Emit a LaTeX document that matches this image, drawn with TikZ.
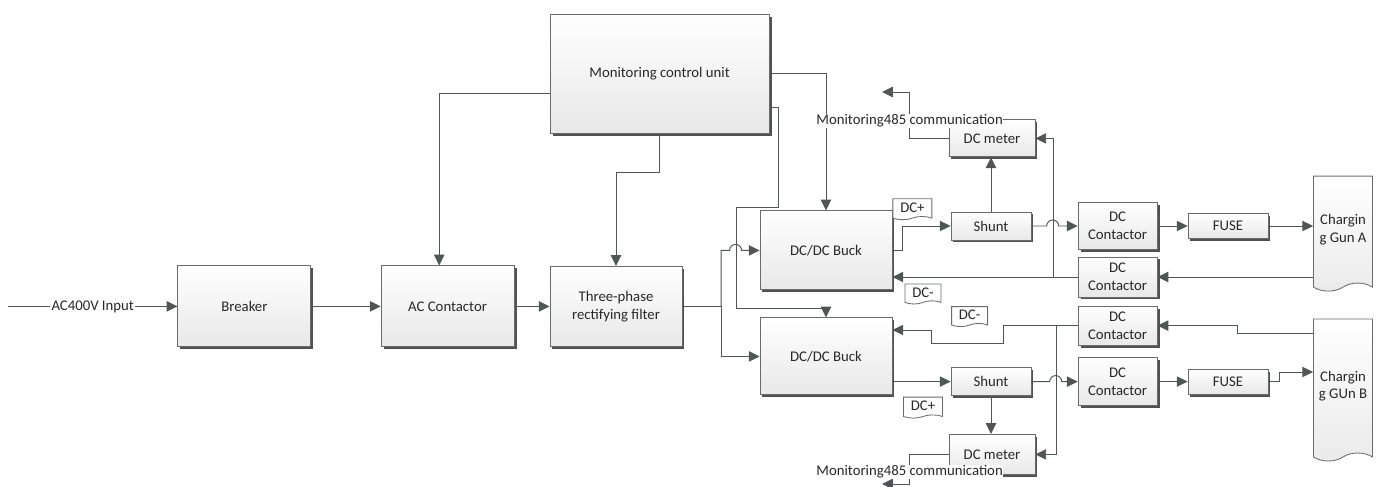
\documentclass[tikz,border=0pt]{standalone}
\usepackage{fontspec}
\setmainfont{Carlito}
\usepackage{tikz}
\usetikzlibrary{positioning,shapes.symbols,shadows,arrows.meta}
\definecolor{myline}{RGB}{78,86,86}
\definecolor{myborder}{RGB}{105,108,108}
\definecolor{mytext}{RGB}{40,40,40}
\tikzstyle{mynode}=[align=center, text=mytext, font=\fontsize{10.5}{12.5}\selectfont]
\tikzstyle{unit}=[mynode, rectangle, inner sep=2pt, draw=myborder, line width=0.6pt, top color=white, middle color=white, bottom color=black!9, drop shadow={shadow xshift=0.06cm,shadow yshift=-0.06cm,fill=black!80,opacity=0.85}]
\tikzstyle{doc}=[mynode, tape, tape bend top=none, draw=myborder, line width=0.6pt, fill=white, inner sep=1pt]
\tikzstyle{gun}=[doc, top color=white, middle color=white, bottom color=black!8, minimum width=1.475cm, tape bend height=0.2cm]
\tikzstyle{connect}=[myline, line width=0.7pt]
\tikzstyle{connect arrow}=[connect, -{Triangle[length=0.27cm,width=0.26cm]}]

\begin{document}
\begin{tikzpicture}
\useasboundingbox (0,0) rectangle (34.55,-12.15);

% AC side
\coordinate (acin) at (0.2,-7.66);
\node[unit, minimum width=3.325cm, minimum height=2.025cm] (brk) at (6.11,-7.66) {Breaker};
\node[unit, minimum width=3.325cm, minimum height=2.025cm] (acc) at (11.19,-7.66) {AC Contactor};
\node[unit, minimum width=3.3cm, minimum height=2.0cm] (rect) at (15.4,-7.66) {Three-phase\\rectifying filter};
\node[unit, minimum width=5.475cm, minimum height=2.975cm] (mcu) at (16.49,-1.84) {Monitoring control unit};

% DC side
\node[unit, minimum width=3.3cm, minimum height=1.975cm] (buckA) at (20.65,-6.26) {DC/DC Buck};
\node[unit, minimum width=3.3cm, minimum height=1.925cm] (buckB) at (20.65,-8.91) {DC/DC Buck};
\node[unit, minimum width=2cm, minimum height=0.7cm] (shuntA) at (24.775,-5.65) {Shunt};
\node[unit, minimum width=2cm, minimum height=0.7cm] (shuntB) at (24.775,-9.54) {Shunt};
\node[unit, minimum width=2.15cm, minimum height=0.925cm] (meterA) at (24.8,-3.46) {DC meter};
\node[unit, minimum width=2.15cm, minimum height=1.0cm] (meterB) at (24.8,-11.36) {DC meter};

\node[unit, minimum width=1.975cm, minimum height=1.175cm] (dccA1) at (27.94,-5.65) {DC\\Contactor};
\node[unit, minimum width=1.975cm, minimum height=1.0cm] (dccA2) at (27.94,-6.925) {DC\\Contactor};
\node[unit, minimum width=1.975cm, minimum height=0.975cm] (dccB2) at (27.94,-8.14) {DC\\Contactor};
\node[unit, minimum width=1.975cm, minimum height=1.2cm] (dccB1) at (27.94,-9.54) {DC\\Contactor};
\node[unit, minimum width=2cm, minimum height=0.625cm] (fuseA) at (30.7,-5.65) {FUSE};
\node[unit, minimum width=2cm, minimum height=0.625cm] (fuseB) at (30.7,-9.54) {FUSE};

\node[gun, minimum height=2.875cm] (gunA) at (33.575,-5.74) {Chargin\\g Gun A};
\node[gun, minimum height=3.55cm] (gunB) at (33.575,-9.65) {Chargin\\g GUn B};

% polarity tags
\node[doc, minimum width=0.975cm, minimum height=0.525cm, tape bend height=0.08cm] (dcpA) at (22.81,-5.19) {DC+};
\node[doc, minimum width=0.9cm, minimum height=0.5cm, tape bend height=0.08cm] (dcmA) at (23.075,-7.31) {DC-};
\node[doc, minimum width=0.9cm, minimum height=0.5cm, tape bend height=0.08cm] (dcmB) at (24.24,-7.875) {DC-};
\node[doc, minimum width=0.975cm, minimum height=0.525cm, tape bend height=0.08cm] (dcpB) at (23.075,-10.15) {DC+};

\coordinate (split) at (18.025,-7.66);
\coordinate (tapA) at (26.325,-6.925);
\coordinate (tapB) at (26.4,-8.14);
\coordinate (outA) at (22.05,-2.3);
\coordinate (outB) at (22.05,-12.1);

\begin{scope}[connect arrow]
    \draw (acin) -- node[mynode, fill=white, inner sep=1pt] (acinlbl) {AC400V Input} (brk);
    \draw (brk) -- (acc);
    \draw (acc) -- (rect);

    % control lines
    \draw ([yshift=-0.49cm]mcu.west) -| ([xshift=-0.21cm]acc.north);
    \draw (mcu.south) -- ++(0,-0.975) -| (rect.north);
    \draw (mcu.east) -| (buckA.north);
    \draw ([yshift=-0.84cm]mcu.east) -- (19.45,-2.68) -- (19.45,-5.175) -- (18.4,-5.175) -- (18.4,-7.7) -| (buckB.north);

    % power path
    \draw[-] (rect.east) -- (split);
    \draw (split) |- ([xshift=-0.75cm]buckA.west) arc[start angle=180,end angle=0,radius=0.15] -- (buckA.west);
    \draw (split) |- (buckB.west);

    \draw ([yshift=-0.01cm]buckA.east) -- ++(0.25,0) |- (shuntA.west);
    \draw (shuntB.west -| buckB.east) -- (shuntB.west);
    \draw (shuntA.north) -- (shuntA.north |- meterA.south);
    \draw (shuntB.south) -- (shuntB.south |- meterB.north);

    \draw (shuntA.east) -- ([xshift=-0.775cm]dccA1.west) arc[start angle=180,end angle=0,radius=0.15] -- (dccA1.west);
    \draw (shuntB.east) -- ([xshift=-0.7cm]dccB1.west) arc[start angle=180,end angle=0,radius=0.15] -- (dccB1.west);
    \draw (dccA1) -- (fuseA);
    \draw (dccB1) -- (fuseB);
    \draw (fuseA.east) -- (fuseA.east -| gunA.west);
    \draw (fuseB.east) -- ++(0.275,0) |- ([yshift=0.35cm]gunB.west);

    % return path
    \draw (dccA2.east -| gunA.west) -- (dccA2.east);
    \draw (dccA2.west) -- (dccA2.west -| buckA.east);
    \draw ([yshift=1.325cm]gunB.west) -| (30.925,-8.14) -- (dccB2.east);
    \draw (dccB2.west) -| (25.075,-8.575) -| (23.275,-8.25) -- ([yshift=0.66cm]buckB.east);

    % meters
    \draw (tapA) |- (meterA.east);
    \draw (tapB) |- (meterB.east);
    \draw (meterA.west) -| (22.725,-2.3) -- (outA);
    \draw (meterB.west) -| (22.725,-12.1) -- (outB);
\end{scope}

\node[mynode, fill=white, inner sep=0.5pt] (commA) at (22.74,-3.025) {Monitoring485 communication};
\node[mynode, fill=white, inner sep=0.5pt] (commB) at (22.74,-11.8) {Monitoring485 communication};

\end{tikzpicture}
\end{document}
